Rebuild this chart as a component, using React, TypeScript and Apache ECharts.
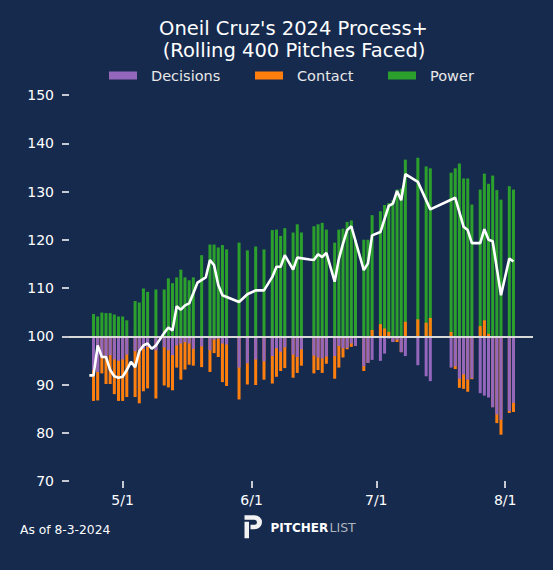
import React, { useEffect, useRef } from "react";
import * as echarts from "echarts";

// ---- data (deviation from 100 for each component) ----
const barDates = [
  "2024-04-24", "2024-04-25", "2024-04-26", "2024-04-27", "2024-04-28", "2024-04-29", "2024-04-30", "2024-05-01", "2024-05-02",
  "2024-05-04", "2024-05-05", "2024-05-06", "2024-05-07", "2024-05-09", "2024-05-11", "2024-05-12", "2024-05-13", "2024-05-14",
  "2024-05-15", "2024-05-16", "2024-05-17", "2024-05-18", "2024-05-20", "2024-05-22", "2024-05-23", "2024-05-24", "2024-05-25",
  "2024-05-26", "2024-05-29", "2024-05-31", "2024-06-02", "2024-06-04", "2024-06-06", "2024-06-07", "2024-06-08", "2024-06-09",
  "2024-06-11", "2024-06-12", "2024-06-13", "2024-06-16", "2024-06-17", "2024-06-18", "2024-06-19", "2024-06-21", "2024-06-22",
  "2024-06-23", "2024-06-24", "2024-06-25", "2024-06-26", "2024-06-28", "2024-06-29", "2024-06-30", "2024-07-02", "2024-07-03",
  "2024-07-04", "2024-07-05", "2024-07-06", "2024-07-07", "2024-07-08", "2024-07-11", "2024-07-13", "2024-07-14", "2024-07-19",
  "2024-07-20", "2024-07-21", "2024-07-22", "2024-07-23", "2024-07-24", "2024-07-26", "2024-07-27", "2024-07-28", "2024-07-29",
  "2024-07-30", "2024-07-31", "2024-08-02", "2024-08-03",
];

const decisions = [
  -7.0, -7.4, -4.4, -4.4, -3.9, -4.8, -5.1, -4.8, -3.8,
  -3.1, -2.9, -2.6, -2.2, -2.9, -2.3, -2.9, -3.9, -1.9,
  -1.5, -1.2, -1.5, -2.6, -2.1, -2.9, -0.7, -0.5, -1.5,
  -1.7, -6.5, -5.6, -4.8, -5.2, -4.1, -2.5, -3.2, -2.3,
  -3.8, -4.3, -2.7, -4.0, -4.4, -4.6, -4.2, -4.1, -2.0,
  -2.5, -2.4, -1.5, -2.0, -6.2, -5.5, -4.9, -5.1, -3.6,
  -0.5, -1.2, -0.7, -3.3, -4.1, -6.0, -8.3, -9.3, -6.5,
  -6.2, -8.8, -7.9, -9.0, -8.7, -11.8, -12.3, -12.7, -14.7,
  -16.2, -17.3, -15.5, -13.8,
];

const contact = [
  -6.4, -5.9, -3.3, -5.5, -6.0, -7.2, -8.3, -8.6, -8.8,
  -9.5, -11.0, -8.8, -8.6, -10.0, -7.9, -7.7, -7.3, -4.6,
  -7.5, -5.7, -4.4, -3.5, -4.3, -4.5, -2.8, -3.8, -8.0,
  -8.6, -6.6, -4.4, -5.3, -3.8, -5.7, -5.9, -4.0, -4.3,
  -4.8, -3.3, -3.4, -3.7, -2.6, -3.0, -1.5, -4.7, -4.5,
  -1.9, -0.3, -0.7, 0, -1.0, 0, 1.3, 2.5, 1.6,
  0.9, 0, -0.5, 0, 3.0, 3.5, 2.8, 3.8, 0.9,
  -0.6, -1.9, -3.0, -2.5, -0.2, 2.1, 3.3, 0.5, 0,
  -1.8, -3.1, -0.4, -1.9,
];

const power = [
  4.6, 4.1, 4.9, 4.8, 4.8, 4.5, 4.1, 4.1, 3.3,
  7.3, 7.0, 9.9, 9.2, 9.7, 9.7, 12.0, 11.0, 12.2,
  13.8, 12.2, 11.6, 12.2, 16.8, 19.0, 19.0, 18.4, 18.9,
  18.0, 19.4, 17.8, 18.6, 18.0, 22.0, 22.1, 20.8, 22.4,
  21.5, 23.2, 21.5, 22.8, 23.2, 23.5, 22.1, 19.4, 22.1,
  22.3, 23.7, 24.0, 20.0, 20.0, 20.0, 23.8, 23.4, 25.6,
  26.7, 28.2, 30.4, 30.6, 33.6, 33.5, 32.4, 31.0, 33.0,
  34.8, 35.8, 32.7, 32.7, 27.3, 28.3, 30.4, 31.1, 33.3,
  30.3, 28.3, 31.1, 30.4,
];

// overall Process+ (rolling)
const lineDates = [
  "2024-04-23", "2024-04-24", "2024-04-25", "2024-04-26", "2024-04-27", "2024-04-28", "2024-04-29", "2024-04-30", "2024-05-01",
  "2024-05-02", "2024-05-03", "2024-05-04", "2024-05-05", "2024-05-06", "2024-05-07", "2024-05-08", "2024-05-09", "2024-05-11",
  "2024-05-12", "2024-05-13", "2024-05-14", "2024-05-15", "2024-05-16", "2024-05-17", "2024-05-18", "2024-05-19", "2024-05-21",
  "2024-05-22", "2024-05-23", "2024-05-24", "2024-05-25", "2024-05-29", "2024-05-31", "2024-06-02", "2024-06-04", "2024-06-06",
  "2024-06-07", "2024-06-08", "2024-06-09", "2024-06-11", "2024-06-12", "2024-06-15", "2024-06-16", "2024-06-17", "2024-06-18",
  "2024-06-19", "2024-06-21", "2024-06-22", "2024-06-23", "2024-06-24", "2024-06-25", "2024-06-28", "2024-06-29", "2024-06-30",
  "2024-07-02", "2024-07-04", "2024-07-05", "2024-07-06", "2024-07-07", "2024-07-08", "2024-07-11", "2024-07-14", "2024-07-20",
  "2024-07-22", "2024-07-23", "2024-07-24", "2024-07-26", "2024-07-27", "2024-07-28", "2024-07-29", "2024-07-31", "2024-08-02",
  "2024-08-03",
];

const processPlus = [
  91.9, 91.9, 98.1, 95.7, 95.7, 93.0, 91.7, 91.4, 91.6,
  93.0, 94.7, 93.6, 96.9, 98.1, 98.5, 97.4, 98.1, 100.7,
  101.8, 101.2, 106.2, 105.5, 106.4, 106.8, 108.9, 111.1, 112.2,
  115.8, 114.7, 110.6, 108.5, 107.1, 108.7, 109.5, 109.5, 112.3,
  114.4, 114.4, 116.8, 113.8, 116.3, 115.9, 115.8, 117.0, 116.4,
  117.3, 111.3, 116.0, 119.2, 122.0, 122.8, 113.7, 115.1, 120.9,
  121.6, 127.0, 127.5, 130.1, 128.2, 133.6, 132.0, 126.3, 128.7,
  122.7, 122.0, 119.3, 119.3, 122.2, 120.0, 119.7, 108.5, 116.1,
  115.5,
];

const xTickDates = ["2024-05-01", "2024-06-01", "2024-07-01", "2024-08-01"];
const BASELINE = 100;
const Y_MIN = 70;
const Y_MAX = 150;
const Y_STEP = 10;

// x is measured in days since May 1, 2024
const DAY = 86400000;
const ORIGIN = Date.UTC(2024, 4, 1);
const dayOf = (s: string) => {
  const [y, m, d] = s.split("-").map(Number);
  return Math.round((Date.UTC(y, m - 1, d) - ORIGIN) / DAY);
};
const labelOf = (day: number) => {
  const d = new Date(ORIGIN + Math.round(day) * DAY);
  return `${d.getUTCMonth() + 1}/${d.getUTCDate()}`;
};

const LOGO_D =
  "M0 0 H10 A7.5 7 0 0 1 10 14 H6 V9.5 H10 A2.5 2.5 0 0 0 10 4.5 H0 Z M0 6.5 H4.5 V23 H0 Z";

let logoRegistered = false;
function registerLogo() {
  if (logoRegistered) return;
  echarts.graphic.registerShape("plLogo", echarts.graphic.extendPath(LOGO_D, {}));
  logoRegistered = true;
}

export default function App() {
  const ref = useRef<HTMLDivElement>(null);

  useEffect(() => {
    document.body.style.margin = "0";
    registerLogo();
    const chart = echarts.init(ref.current!, undefined, { renderer: "svg" });
    const font = "DejaVu Sans";
    const textColor = "#ffffff";
    const xTicks = xTickDates.map(dayOf);
    const xs = barDates.map(dayOf);

    // Same-sign stacking, built as overlapping bars that all start at the baseline:
    // green reaches the top of the positive stack, orange the end of the contact
    // segment, purple the decisions segment (drawn last, on top).
    const powerEnd = power.map((p, i) => (contact[i] > 0 ? contact[i] : 0) + p);
    const contactEnd = contact.map((c, i) => (c > 0 ? c : decisions[i] + c));
    const decisionsEnd = decisions.slice();

    const legendBase = {
      top: 68,
      padding: 0,
      itemWidth: 28,
      itemHeight: 8,
      icon: "rect",
      selectedMode: false,
      textStyle: { color: "#e8e8e8", fontSize: 14.5, fontFamily: font, padding: [0, 0, 0, 9] },
    };
    const barSeries = (name: string, color: string, vals: number[]) => ({
      type: "bar",
      name,
      barWidth: 3,
      barGap: "-100%",
      itemStyle: { color },
      data: xs.map((x, i) => [x, vals[i]]),
    });

    chart.setOption({
      animation: false,
      backgroundColor: "#162a4e",
      textStyle: { fontFamily: font },
      grid: { left: 69, right: 20, top: 95, bottom: 89, containLabel: false },
      legend: [
        { ...legendBase, left: 109, data: ["Decisions"] },
        { ...legendBase, left: 255, data: ["Contact"] },
        { ...legendBase, left: 388, data: ["Power"] },
      ],
      xAxis: {
        type: "value",
        min: -12.9,
        max: 98.7,
        axisLine: { show: false, onZero: false },
        splitLine: { show: false },
        axisTick: {
          show: true,
          length: 7,
          customValues: xTicks,
          lineStyle: { color: textColor, width: 1.5 },
        },
        axisLabel: {
          customValues: xTicks,
          color: textColor,
          fontSize: 14,
          fontFamily: font,
          margin: 12,
          formatter: (v: number) => labelOf(v),
        },
      },
      yAxis: {
        type: "value",
        min: Y_MIN - BASELINE,
        max: Y_MAX - BASELINE,
        interval: Y_STEP,
        axisLine: { show: false, onZero: false },
        splitLine: { show: false },
        axisTick: { show: true, length: 7, lineStyle: { color: textColor, width: 1.5 } },
        axisLabel: {
          color: textColor,
          fontSize: 14,
          fontFamily: font,
          margin: 15,
          formatter: (v: number) => String(v + BASELINE),
        },
      },
      series: [
        barSeries("Power", "#2ca02c", powerEnd),
        barSeries("Contact", "#ff7f0e", contactEnd),
        barSeries("Decisions", "#9467bd", decisionsEnd),
        {
          type: "line",
          name: "Process+",
          z: 5,
          symbol: "none",
          lineStyle: { color: "#ffffff", width: 2.6 },
          data: lineDates.map((d, i) => [dayOf(d), processPlus[i] - BASELINE]),
          markLine: {
            silent: true,
            symbol: "none",
            label: { show: false },
            lineStyle: { color: "#d9d9d9", width: 2, type: "solid" },
            data: [{ yAxis: 0 }],
          },
        },
      ],
      graphic: [
        {
          type: "text",
          x: 293.5,
          y: 28.5,
          style: {
            text: "Oneil Cruz's 2024 Process+",
            fill: textColor,
            fontSize: 19.5,
            fontFamily: font,
            align: "center",
            verticalAlign: "middle",
          },
        },
        {
          type: "text",
          x: 294,
          y: 50.5,
          style: {
            text: "(Rolling 400 Pitches Faced)",
            fill: textColor,
            fontSize: 19.5,
            fontFamily: font,
            align: "center",
            verticalAlign: "middle",
          },
        },
        {
          type: "text",
          x: 20,
          y: 529.5,
          style: {
            text: "As of 8-3-2024",
            fill: textColor,
            fontSize: 12.3,
            fontFamily: font,
            align: "left",
            verticalAlign: "middle",
          },
        },
        {
          type: "plLogo",
          x: 244.5,
          y: 515.3,
          style: { fill: "#f2f2f2" },
        },
        {
          type: "text",
          x: 270.5,
          y: 527.8,
          style: {
            text: "PITCHER",
            fill: "#ffffff",
            fontSize: 12,
            fontWeight: "bold",
            fontFamily: font,
            align: "left",
            verticalAlign: "middle",
          },
        },
        {
          type: "text",
          x: 329.5,
          y: 527.8,
          style: {
            text: "LIST",
            fill: "#aeb4be",
            fontSize: 12.5,
            fontFamily: font,
            align: "left",
            verticalAlign: "middle",
          },
        },
      ],
    });
    return () => chart.dispose();
  }, []);

  return <div ref={ref} style={{ width: 553, height: 570 }} />;
}
